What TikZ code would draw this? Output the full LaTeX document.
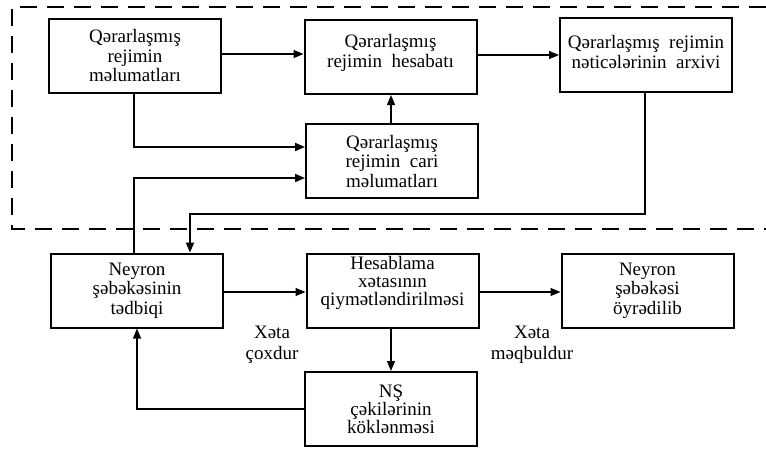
\documentclass[tikz,border=0pt]{standalone}
\usepackage{fontspec}
\setmainfont{Liberation Serif}
\usetikzlibrary{arrows.meta,calc}
\begin{document}
\begin{tikzpicture}[x=1pt,y=-1pt,
  box/.style={draw,line width=2pt,minimum width=172pt,minimum height=74pt,inner sep=0pt,
    align=center,font=\fontsize{19}{19.5}\selectfont},
  conn/.style={line width=1.3pt,-{Triangle[length=10pt,width=8pt]}},
  thickconn/.style={line width=1.8pt,-{Triangle[length=10pt,width=8pt]}},
  lbl/.style={align=center,font=\fontsize{19}{21}\selectfont,inner sep=0pt}]
\useasboundingbox (0,0) rectangle (766,450);
\draw[line width=2pt,dash pattern=on 17pt off 10pt] (766,7) -- (12,7) -- (12,229) -- (766,229);
% boxes
\node[box] (b1) at (135,55.5) {Qərarlaşmış\\rejimin\\məlumatları};
\node[box,text depth=12pt] (b2) at (390.5,57) {Qərarlaşmış\\rejimin\ \ hesabatı};
\node[box,text depth=6pt] (b3) at (646,55) {Qərarlaşmış\ \ rejimin\\nəticələrinin\ \ arxivi};
\node[box] (b4) at (392,161) {Qərarlaşmış\\rejimin\ \ cari\\məlumatları};
\node[box] (n1) at (137,290.5) {Neyron\\şəbəkəsinin\\tədbiqi};
\node[box,text depth=19pt,font=\fontsize{19}{18}\selectfont] (h) at (392.5,290.5) {Hesablama\\xətasının\\qiymətləndirilməsi};
\node[box] (o) at (647.5,290.5) {Neyron\\şəbəkəsi\\öyrədilib};
\node[box,font=\fontsize{19}{18}\selectfont] (ns) at (391,409) {NŞ\\çəkilərinin\\köklənməsi};
% labels
\node[lbl] (l1) at (272,345) {Xəta\\çoxdur};
\node[lbl] (l2) at (532,345) {Xəta\\məqbuldur};
% connectors
\coordinate (fbline) at (0,214);
\draw[conn] ([yshift=1.5pt]b1.east) -- ([yshift=1.5pt]b1.east -| b2.west);
\draw[conn] ([yshift=2pt]b2.east) -- ([yshift=2pt]b2.east -| b3.west);
\draw[conn] ([xshift=-1pt]b4.north) -- ([xshift=-1pt]b4.north |- b2.south);
\draw[thickconn] ([xshift=-1pt]b1.south) |- ([yshift=14pt]b4.west);
\draw[thickconn] ([xshift=-3pt]n1.north) |- ([yshift=-17pt]b4.west);
\draw[thickconn] ([xshift=-1pt]b3.south) -- ([xshift=-1pt]b3.south |- fbline) -| ([xshift=53pt]n1.north);
\draw[conn] ([yshift=-1.5pt]n1.east) -- ([yshift=-1.5pt]n1.east -| h.west);
\draw[conn] ([yshift=-1.5pt]h.east) -- ([yshift=-1.5pt]h.east -| o.west);
\draw[conn] ([xshift=-1.5pt]h.south) -- ([xshift=-1.5pt]h.south |- ns.north);
\draw[conn] (ns.west) -| (n1.south);
\end{tikzpicture}
\end{document}
